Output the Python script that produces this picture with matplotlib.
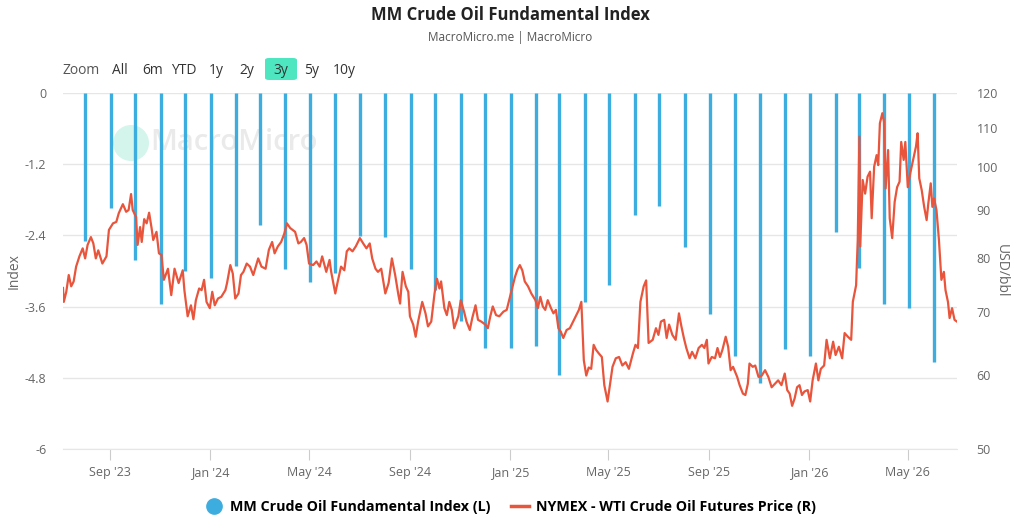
import pandas as pd
import matplotlib
matplotlib.use('Agg')
import matplotlib.pyplot as plt
import matplotlib.dates as mdates
from matplotlib.lines import Line2D
from matplotlib.patches import FancyBboxPatch, Ellipse
from matplotlib.ticker import FixedLocator, NullLocator, FuncFormatter

# MM Crude Oil Fundamental Index, monthly (L)
index_months = pd.date_range('2023-08-01', periods=35, freq='MS') + pd.Timedelta(days=1)
index_values = [-2.49, -1.94, -2.81, -3.56, -3.00, -3.11, -2.92, -2.22, -2.97, -3.19,
                -3.03, -2.41, -2.42, -2.97, -3.32, -3.84, -4.30, -4.30, -4.26, -4.76,
                -3.52, -3.24, -2.05, -1.90, -2.60, -3.73, -4.43, -4.88, -4.32, -4.43,
                -2.35, -2.95, -3.55, -3.63, -4.53]

# NYMEX WTI crude futures, USD/bbl (R)
wti_dates = [
    '2023-07-06', '2023-07-07', '2023-07-10', '2023-07-13', '2023-07-16', '2023-07-19',
    '2023-07-22', '2023-07-26', '2023-07-30', '2023-08-02', '2023-08-05', '2023-08-09',
    '2023-08-12', '2023-08-15', '2023-08-18', '2023-08-23', '2023-08-28', '2023-08-31',
    '2023-09-05', '2023-09-09', '2023-09-12', '2023-09-17', '2023-09-21', '2023-09-24',
    '2023-09-27', '2023-09-29', '2023-10-03', '2023-10-05', '2023-10-08', '2023-10-10',
    '2023-10-13', '2023-10-16', '2023-10-19', '2023-10-22', '2023-10-24', '2023-10-28',
    '2023-10-31', '2023-11-03', '2023-11-06', '2023-11-11', '2023-11-15', '2023-11-19',
    '2023-11-24', '2023-11-29', '2023-12-01', '2023-12-05', '2023-12-09', '2023-12-12',
    '2023-12-15', '2023-12-19', '2023-12-22', '2023-12-25', '2023-12-28', '2024-01-01',
    '2024-01-04', '2024-01-07', '2024-01-11', '2024-01-15', '2024-01-20', '2024-01-22',
    '2024-01-26', '2024-01-29', '2024-02-01', '2024-02-05', '2024-02-08', '2024-02-11',
    '2024-02-15', '2024-02-19', '2024-02-23', '2024-02-29', '2024-03-04', '2024-03-09',
    '2024-03-13', '2024-03-17', '2024-03-20', '2024-03-24', '2024-03-28', '2024-04-01',
    '2024-04-04', '2024-04-08', '2024-04-14', '2024-04-18', '2024-04-21', '2024-04-25',
    '2024-04-28', '2024-05-01', '2024-05-06', '2024-05-10', '2024-05-14', '2024-05-17',
    '2024-05-22', '2024-05-26', '2024-05-28', '2024-06-02', '2024-06-05', '2024-06-09',
    '2024-06-13', '2024-06-16', '2024-06-19', '2024-06-23', '2024-06-27', '2024-07-02',
    '2024-07-06', '2024-07-10', '2024-07-14', '2024-07-17', '2024-07-21', '2024-07-24',
    '2024-07-28', '2024-08-02', '2024-08-06', '2024-08-10', '2024-08-14', '2024-08-18',
    '2024-08-20', '2024-08-23', '2024-08-27', '2024-08-30', '2024-09-01', '2024-09-05',
    '2024-09-08', '2024-09-11', '2024-09-14', '2024-09-16', '2024-09-20', '2024-09-23',
    '2024-09-27', '2024-10-01', '2024-10-04', '2024-10-07', '2024-10-09', '2024-10-13',
    '2024-10-16', '2024-10-19', '2024-10-22', '2024-10-25', '2024-10-30', '2024-11-02',
    '2024-11-06', '2024-11-09', '2024-11-13', '2024-11-16', '2024-11-20', '2024-11-23',
    '2024-11-27', '2024-12-02', '2024-12-05', '2024-12-08', '2024-12-11', '2024-12-15',
    '2024-12-19', '2024-12-24', '2024-12-28', '2024-12-31', '2025-01-03', '2025-01-07',
    '2025-01-10', '2025-01-13', '2025-01-16', '2025-01-19', '2025-01-23', '2025-01-27',
    '2025-02-01', '2025-02-04', '2025-02-07', '2025-02-10', '2025-02-13', '2025-02-16',
    '2025-02-20', '2025-02-23', '2025-02-26', '2025-03-01', '2025-03-04', '2025-03-07',
    '2025-03-11', '2025-03-15', '2025-03-19', '2025-03-23', '2025-03-26', '2025-03-29',
    '2025-04-01', '2025-04-04', '2025-04-07', '2025-04-10', '2025-04-13', '2025-04-16',
    '2025-04-19', '2025-04-23', '2025-04-26', '2025-04-30', '2025-05-03', '2025-05-06',
    '2025-05-10', '2025-05-14', '2025-05-18', '2025-05-22', '2025-05-26', '2025-05-31',
    '2025-06-03', '2025-06-06', '2025-06-09', '2025-06-13', '2025-06-16', '2025-06-19',
    '2025-06-24', '2025-06-28', '2025-07-01', '2025-07-04', '2025-07-08', '2025-07-11',
    '2025-07-14', '2025-07-18', '2025-07-22', '2025-07-26', '2025-07-29', '2025-08-01',
    '2025-08-04', '2025-08-08', '2025-08-11', '2025-08-15', '2025-08-19', '2025-08-23',
    '2025-08-26', '2025-08-29', '2025-08-31', '2025-09-04', '2025-09-08', '2025-09-11',
    '2025-09-14', '2025-09-17', '2025-09-21', '2025-09-24', '2025-09-27', '2025-09-30',
    '2025-10-05', '2025-10-08', '2025-10-12', '2025-10-15', '2025-10-18', '2025-10-20',
    '2025-10-24', '2025-10-27', '2025-10-31', '2025-11-04', '2025-11-08', '2025-11-12',
    '2025-11-16', '2025-11-20', '2025-11-24', '2025-11-28', '2025-12-02', '2025-12-05',
    '2025-12-08', '2025-12-11', '2025-12-14', '2025-12-17', '2025-12-20', '2025-12-23',
    '2025-12-26', '2025-12-30', '2026-01-02', '2026-01-05', '2026-01-09', '2026-01-12',
    '2026-01-15', '2026-01-19', '2026-01-22', '2026-01-26', '2026-01-30', '2026-02-02',
    '2026-02-06', '2026-02-10', '2026-02-13', '2026-02-17', '2026-02-21', '2026-02-23',
    '2026-02-27', '2026-03-01', '2026-03-03', '2026-03-04', '2026-03-07', '2026-03-10',
    '2026-03-13', '2026-03-16', '2026-03-18', '2026-03-21', '2026-03-24', '2026-03-26',
    '2026-03-28', '2026-03-31', '2026-04-02', '2026-04-04', '2026-04-07', '2026-04-09',
    '2026-04-12', '2026-04-15', '2026-04-18', '2026-04-21', '2026-04-23', '2026-04-26',
    '2026-04-28', '2026-05-01', '2026-05-04', '2026-05-08', '2026-05-11', '2026-05-13',
    '2026-05-15', '2026-05-18', '2026-05-21', '2026-05-24', '2026-05-26', '2026-05-29',
    '2026-05-31', '2026-06-02', '2026-06-05', '2026-06-08', '2026-06-11', '2026-06-14',
    '2026-06-16', '2026-06-19', '2026-06-21', '2026-06-24', '2026-06-27', '2026-06-30',
]
wti_price = [
    74.3, 71.8, 73.6, 76.7, 74.6, 75.5, 78.3, 80.3, 81.9, 79.9, 82.6, 84.2,
    82.9, 79.9, 81.5, 78.9, 80.3, 85.7, 87.1, 87.4, 89.3, 91.3, 89.6, 90.0,
    93.6, 90.0, 88.5, 82.6, 86.3, 83.2, 88.0, 87.1, 89.4, 86.1, 83.6, 85.3,
    80.9, 80.6, 75.8, 77.9, 73.0, 77.9, 75.2, 77.6, 73.9, 69.3, 71.2, 68.8,
    72.1, 74.2, 73.9, 75.8, 71.8, 70.7, 73.6, 71.2, 72.4, 72.7, 73.9, 75.2,
    78.6, 77.0, 72.4, 73.3, 76.7, 77.3, 78.9, 78.3, 76.7, 79.9, 78.3, 77.9,
    81.6, 83.2, 80.9, 82.3, 83.2, 85.0, 87.1, 86.1, 85.3, 82.9, 83.2, 84.0,
    82.6, 78.9, 78.6, 79.3, 78.3, 80.3, 77.3, 79.6, 77.3, 73.3, 75.5, 78.3,
    77.6, 81.3, 81.9, 81.3, 82.3, 84.0, 82.9, 81.9, 82.9, 79.9, 77.9, 77.3,
    77.9, 73.3, 75.2, 79.9, 76.7, 73.0, 71.5, 77.3, 74.6, 73.6, 69.3, 67.9,
    65.9, 68.4, 70.4, 71.8, 69.8, 67.6, 68.4, 73.3, 76.0, 74.2, 75.5, 70.7,
    69.5, 71.8, 70.4, 67.3, 69.3, 72.1, 70.1, 68.4, 67.0, 69.0, 71.2, 68.7,
    68.4, 67.9, 67.3, 69.3, 71.0, 69.5, 69.3, 70.1, 70.4, 72.1, 73.9, 76.3,
    77.7, 78.6, 77.6, 75.5, 74.6, 73.3, 72.1, 70.7, 72.7, 71.0, 70.4, 72.1,
    70.7, 69.8, 70.4, 67.3, 66.7, 65.7, 67.0, 67.3, 68.4, 69.5, 70.4, 71.8,
    62.2, 59.9, 61.1, 60.9, 64.6, 63.8, 63.3, 62.7, 58.5, 56.2, 58.7, 61.2,
    62.5, 62.7, 61.4, 61.9, 60.9, 63.3, 64.6, 64.1, 71.8, 74.6, 75.7, 64.9,
    65.4, 67.3, 66.2, 68.4, 68.7, 65.7, 67.9, 66.2, 65.4, 69.8, 67.6, 65.7,
    64.1, 62.5, 63.5, 62.5, 64.1, 64.6, 64.1, 65.4, 61.7, 62.7, 62.5, 64.1,
    62.7, 63.8, 65.9, 64.3, 60.7, 61.2, 59.7, 58.5, 57.3, 57.1, 58.7, 61.7,
    61.2, 61.4, 59.7, 59.9, 60.7, 59.7, 58.2, 58.7, 59.2, 58.5, 60.2, 57.8,
    57.3, 55.6, 56.6, 58.2, 58.5, 57.1, 57.6, 57.8, 56.2, 59.2, 61.7, 59.2,
    60.9, 61.4, 65.4, 62.5, 65.1, 63.0, 64.3, 62.5, 66.5, 65.9, 65.4, 71.8,
    74.8, 83.6, 107.8, 82.3, 96.9, 93.7, 97.7, 98.9, 88.2, 100.1, 103.0, 100.5,
    111.4, 114.2, 111.8, 94.9, 104.3, 88.2, 84.0, 91.8, 95.2, 96.5, 106.4, 101.8,
    106.4, 95.2, 98.5, 102.2, 105.2, 108.7, 97.3, 94.5, 90.7, 87.8, 91.4, 96.1,
    90.7, 92.6, 90.0, 83.6, 75.8, 77.3, 73.9, 71.8, 69.0, 70.7, 68.7, 68.4,
]

left_ticks = [0, -1.2, -2.4, -3.6, -4.8, -6]
right_ticks = [50, 60, 70, 80, 90, 100, 110, 120]
range_buttons = ['Zoom', 'All', '6m', 'YTD', '1y', '2y', '3y', '5y', '10y']

BLUE = '#3dade0'
RED = '#e8553c'
TXT = '#666666'
W, H = 1021, 520

plt.rcParams['font.family'] = ['Open Sans', 'DejaVu Sans']

fig = plt.figure(figsize=(10.21, 5.2), dpi=100)
ax1 = fig.add_axes([0.0617, 0.1365, 0.8756, 0.6846])
ax2 = ax1.twinx()

# watermark (logo disc + name)
ax1.add_patch(Ellipse((131 / W, 1 - 143 / H), 36 / W, 36 / H, transform=fig.transFigure,
                      facecolor='#d4f5ec', edgecolor='none', zorder=0, clip_on=False))
ax1.text(150 / W, 1 - 143 / H, 'MacroMicro', transform=fig.transFigure, fontsize=21,
         fontweight='semibold', color='#eaeaea', va='center', ha='left', zorder=0)

# index bars hanging down from 0
ax1.vlines(index_months, index_values, 0, colors=BLUE, linewidth=2.4, zorder=2)
ax1.set_ylim(-6, 0)
ax1.yaxis.set_major_locator(FixedLocator(left_ticks))
ax1.yaxis.set_major_formatter(FuncFormatter(lambda v, p: '0' if v == 0 else f'{v:g}'))
ax1.grid(axis='y', color='#e6e6e6', linewidth=1, zorder=0)
ax1.set_axisbelow(True)
ax1.set_ylabel('Index', color=TXT, fontsize=10, labelpad=2)

# WTI price on log axis
wti = pd.Series(wti_price, index=pd.to_datetime(wti_dates))
ax2.plot(wti.index, wti.values, color=RED, linewidth=1.6, zorder=3)
ax2.set_yscale('log')
ax2.set_ylim(50, 120)
ax2.yaxis.set_major_locator(FixedLocator(right_ticks))
ax2.yaxis.set_minor_locator(NullLocator())
ax2.yaxis.set_major_formatter(FuncFormatter(lambda v, p: f'{v:.0f}'))
ax2.set_ylabel('USD/bbl', color=TXT, fontsize=10, rotation=270, labelpad=8)

ax1.set_xlim(pd.Timestamp('2023-07-06'), pd.Timestamp('2026-06-30'))
ax1.xaxis.set_major_locator(mdates.MonthLocator(bymonth=[1, 5, 9]))
ax1.xaxis.set_major_formatter(mdates.DateFormatter("%b '%y"))

for ax in (ax1, ax2):
    for s in ax.spines.values():
        s.set_visible(False)
    ax.tick_params(axis='y', length=0, labelsize=9, labelcolor=TXT)
ax1.tick_params(axis='y', pad=12)
ax2.tick_params(axis='y', pad=14)
ax1.tick_params(axis='x', length=8, color='#cccccc', labelsize=9, labelcolor=TXT, pad=4)
ax1.spines['bottom'].set_visible(True)
ax1.spines['bottom'].set_color('#e6e6e6')

# title block
fig.text(0.5, 0.972, 'MM Crude Oil Fundamental Index', ha='center', va='center',
         fontsize=12, fontweight='bold', color='#222222')
fig.text(0.5, 0.927, 'MacroMicro.me | MacroMicro', ha='center', va='center',
         fontsize=8.5, color='#555555')

# range selector
btn_x = [81, 120, 153, 184, 216, 247, 281, 312, 344]
for label, x in zip(range_buttons, btn_x):
    if label == '3y':
        fig.patches.append(FancyBboxPatch((265 / W, 1 - 80 / H), 32 / W, 22 / H,
                                          boxstyle='round,pad=0,rounding_size=0.004',
                                          transform=fig.transFigure, facecolor='#4de6c1',
                                          edgecolor='none'))
    fig.text(x / W, 1 - 70 / H, label, ha='center', va='center',
             fontsize=10, color='#333333' if label != 'Zoom' else '#555555')

# legend
handles = [Line2D([], [], marker='o', linestyle='none', markersize=11, color=BLUE),
           Line2D([], [], color=RED, linewidth=2.5)]
labels = ['MM Crude Oil Fundamental Index (L)', 'NYMEX - WTI Crude Oil Futures Price (R)']
fig.legend(handles, labels, loc='center', bbox_to_anchor=(0.5, 0.025), ncol=2,
           frameon=False, handlelength=1.2, columnspacing=1.5, handletextpad=0.5,
           prop={'weight': 'bold', 'size': 10.3})

fig.savefig('out.png', dpi=100)
